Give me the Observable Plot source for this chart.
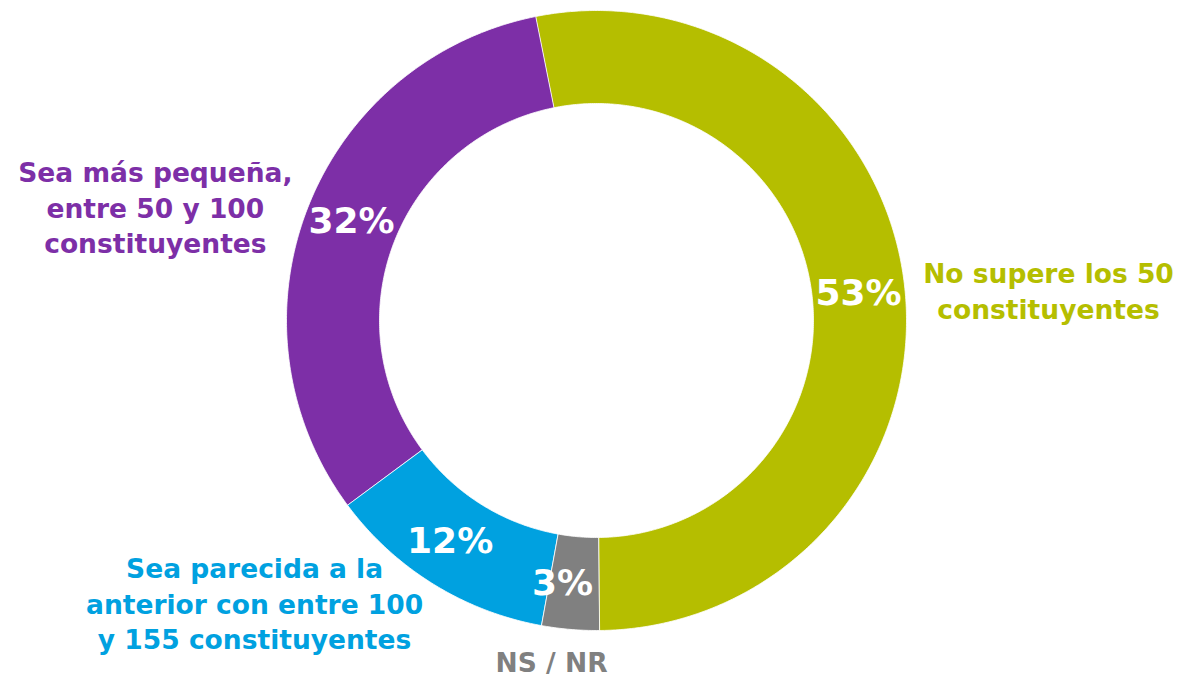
<!DOCTYPE html>
<html>
<head>
<meta charset="utf-8">
<script src="https://cdn.jsdelivr.net/npm/d3@7"></script>
<script src="https://cdn.jsdelivr.net/npm/@observablehq/plot@0.6"></script>
<style>
  html, body { margin: 0; padding: 0; background: #ffffff; }
  #chart svg { display: block; }
</style>
</head>
<body>
<div id="chart"></div>
<script>
// ---- Data ----
const categories = [
  "No supere los 50\nconstituyentes",
  "NS / NR",
  "Sea parecida a la\nanterior con entre 100\ny 155 constituyentes",
  "Sea más pequeña,\nentre 50 y 100\nconstituyentes"
];
const values = [53, 3, 12, 32];
const pctLabels = ["53%", "3%", "12%", "32%"];

// ---- Styles / layout (not data) ----
const colors = ["#b5be00", "#808080", "#00a1e0", "#7d2fa7"];
const startAngleDeg = -11.3;      // where the first slice begins (clockwise from top)
const innerRatio = 0.70;          // inner radius / outer radius
const labelPos = [                // outer label anchors in radius units (y up)
  [1.458, 0.10],
  [-0.145, -1.097],
  [-1.103, -0.91],
  [-1.423, 0.368]
];
const pctOffset = [[0, 0], [-0.037, 0], [-0.023, 0.01], [0.003, 0.013]];

// ---- Build slice outlines from the values ----
const total = d3.sum(values);
let acc = 0;
const slices = values.map((v, i) => {
  const a0 = (startAngleDeg + acc / total * 360) * Math.PI / 180;
  acc += v;
  const a1 = (startAngleDeg + acc / total * 360) * Math.PI / 180;
  return {key: categories[i], a0, a1, i};
});
const pts = [];
for (const s of slices) {
  const n = Math.max(4, Math.ceil((s.a1 - s.a0) / (Math.PI / 360)));
  for (let k = 0; k <= n; k++) {
    const a = s.a0 + (s.a1 - s.a0) * k / n;
    pts.push({key: s.key, x: Math.sin(a), y: Math.cos(a)});
  }
  for (let k = n; k >= 0; k--) {
    const a = s.a0 + (s.a1 - s.a0) * k / n;
    pts.push({key: s.key, x: innerRatio * Math.sin(a), y: innerRatio * Math.cos(a)});
  }
}
const midR = (1 + innerRatio) / 2;
const pctData = slices.map(s => {
  const a = (s.a0 + s.a1) / 2;
  return {key: s.key, text: pctLabels[s.i], x: midR * Math.sin(a) + pctOffset[s.i][0], y: midR * Math.cos(a) + pctOffset[s.i][1]};
});
const outerData = slices.map(s => ({key: s.key, text: s.key, x: labelPos[s.i][0], y: labelPos[s.i][1]}));

const W = 1181, H = 680, cx = 596, cy = 320, R = 310;
const font = "'DejaVu Sans', sans-serif";

const chart = Plot.plot({
  width: W,
  height: H,
  margin: 0,
  style: {fontFamily: font, background: "#ffffff"},
  x: {domain: [-cx / R, (W - cx) / R], range: [0, W], axis: null},
  y: {domain: [(cy - H) / R, cy / R], range: [H, 0], axis: null},
  color: {domain: categories, range: colors},
  marks: [
    Plot.line(pts, {x: "x", y: "y", z: "key", fill: "key", stroke: "#ffffff", strokeWidth: 0.8, curve: "linear-closed"}),
    Plot.text(pctData, {x: "x", y: "y", text: "text", fill: "#ffffff", fontSize: 36, fontWeight: "bold", textAnchor: "middle"}),
    Plot.text(outerData, {x: "x", y: "y", text: "text", fill: "key", fontSize: 26.5, fontWeight: "bold", textAnchor: "middle", lineHeight: 1.34})
  ]
});
document.getElementById("chart").appendChild(chart);
</script>
</body>
</html>
